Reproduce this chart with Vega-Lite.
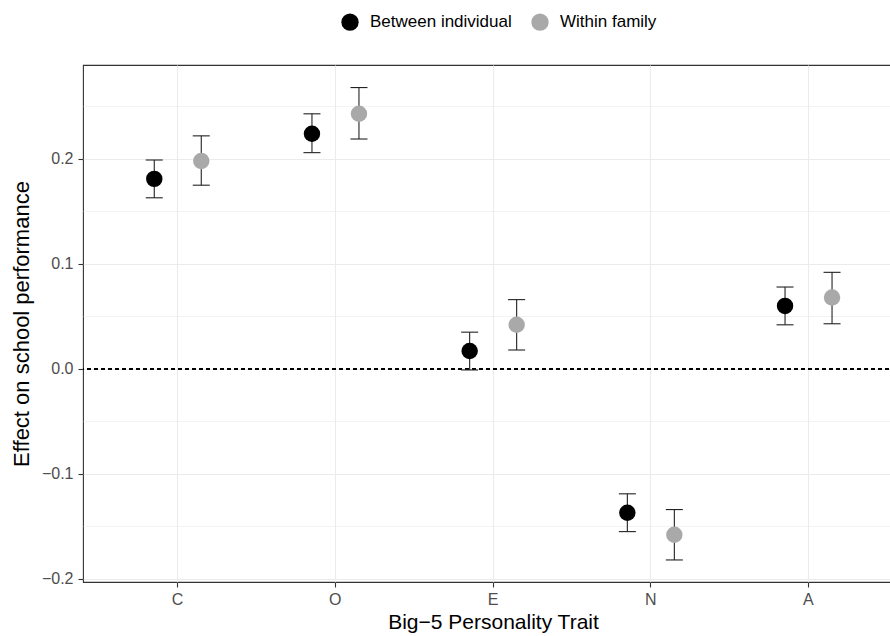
{
  "$schema": "https://vega.github.io/schema/vega-lite/v6.json",
  "width": 820,
  "height": 517,
  "autosize": {"type": "none"},
  "padding": {"left": 83, "top": 65, "right": 0, "bottom": 54},
  "background": "white",
  "config": {
    "font": "Liberation Sans",
    "view": {"stroke": "#333333", "strokeWidth": 1.1},
    "axis": {"domain": false}
  },
  "data": {
    "values": [
      {"trait": "C", "type": "Between individual", "est": 0.181, "lo": 0.163, "hi": 0.199},
      {"trait": "C", "type": "Within family", "est": 0.198, "lo": 0.175, "hi": 0.222},
      {"trait": "O", "type": "Between individual", "est": 0.224, "lo": 0.206, "hi": 0.243},
      {"trait": "O", "type": "Within family", "est": 0.243, "lo": 0.219, "hi": 0.268},
      {"trait": "E", "type": "Between individual", "est": 0.017, "lo": -0.001, "hi": 0.035},
      {"trait": "E", "type": "Within family", "est": 0.042, "lo": 0.018, "hi": 0.066},
      {"trait": "N", "type": "Between individual", "est": -0.137, "lo": -0.155, "hi": -0.119},
      {"trait": "N", "type": "Within family", "est": -0.158, "lo": -0.182, "hi": -0.134},
      {"trait": "A", "type": "Between individual", "est": 0.060, "lo": 0.042, "hi": 0.078},
      {"trait": "A", "type": "Within family", "est": 0.068, "lo": 0.043, "hi": 0.092}
    ]
  },
  "encoding": {
    "x": {
      "field": "trait", "type": "nominal", "sort": ["C", "O", "E", "N", "A"],
      "scale": {"paddingInner": 0, "paddingOuter": 0.1},
      "axis": {
        "title": "Big\u22125 Personality Trait", "titleFontSize": 21, "titleFontWeight": "normal", "titleColor": "#000000", "titlePadding": 4,
        "labelAngle": 0, "labelFontSize": 16, "labelColor": "#4D4D4D", "labelPadding": 4,
        "tickColor": "#333333", "tickSize": 5, "tickWidth": 1.1,
        "bandPosition": 0.5, "grid": true, "gridColor": "#EBEBEB", "gridWidth": 1.1
      }
    },
    "xOffset": {
      "field": "type", "type": "nominal",
      "scale": {"type": "point", "padding": 0, "domain": ["Between individual", "Within family"], "range": [55.5, 102.5]}
    }
  },
  "layer": [
    {
      "mark": {"type": "rule", "color": "#000000", "strokeDash": [4, 3], "strokeWidth": 1},
      "encoding": {
        "y": {
          "datum": 0, "type": "quantitative",
          "scale": {"domain": [-0.203, 0.2895], "nice": false, "zero": false},
          "axis": {
            "title": "Effect on school performance", "titleFontSize": 22, "titleFontWeight": "normal", "titleColor": "#000000", "titlePadding": 8,
            "values": [-0.2, -0.15, -0.1, -0.05, 0, 0.05, 0.1, 0.15, 0.2, 0.25],
            "labelExpr": "abs(round(datum.value*20)) % 2 == 1 ? '' : (datum.value < -0.0001 ? '\u2212' : '') + format(abs(datum.value), '.1f')",
            "labelFontSize": 16, "labelColor": "#4D4D4D", "labelPadding": 5,
            "tickSize": 5, "tickWidth": 1.1, "tickColor": "#333333",
            "tickOpacity": {"condition": {"test": "abs(round(datum.value*20)) % 2 == 1", "value": 0}, "value": 1},
            "grid": true, "gridColor": "#EBEBEB",
            "gridWidth": {"condition": {"test": "abs(round(datum.value*20)) % 2 == 1", "value": 0.6}, "value": 1.1}
          }
        },
        "x": null, "xOffset": null
      }
    },
    {
      "mark": {"type": "rule", "color": "#222222", "strokeWidth": 1.1},
      "encoding": {
        "y": {"field": "lo", "type": "quantitative"},
        "y2": {"field": "hi"}
      }
    },
    {
      "mark": {"type": "tick", "color": "#222222", "size": 17, "thickness": 1.1, "opacity": 1},
      "encoding": {"y": {"field": "lo", "type": "quantitative"}}
    },
    {
      "mark": {"type": "tick", "color": "#222222", "size": 17, "thickness": 1.1, "opacity": 1},
      "encoding": {"y": {"field": "hi", "type": "quantitative"}}
    },
    {
      "mark": {"type": "point", "filled": true, "opacity": 1, "size": 270},
      "encoding": {
        "y": {"field": "est", "type": "quantitative"},
        "color": {
          "field": "type", "type": "nominal",
          "scale": {"domain": ["Between individual", "Within family"], "range": ["#000000", "#A9A9A9"]},
          "legend": {
            "title": null, "orient": "none", "direction": "horizontal",
            "legendX": 258, "legendY": -52,
            "symbolType": "circle", "symbolSize": 300, "symbolStrokeWidth": 0,
            "labelFontSize": 17, "labelColor": "#000000", "labelOffset": 11, "columnPadding": 19
          }
        }
      }
    }
  ]
}
